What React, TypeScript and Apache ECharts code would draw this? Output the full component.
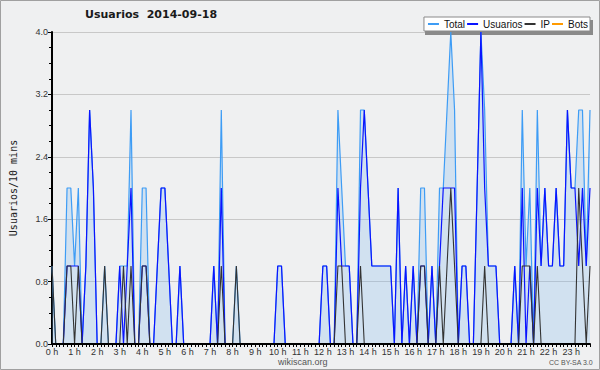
import React, { useEffect, useRef } from 'react';
import * as echarts from 'echarts';

const TITLE = 'Usuarios  2014-09-18';
const Y_NAME = 'Usuarios/10 mins';
const SERIES_NAMES = ['Total', 'Usuarios', 'IP', 'Bots'];
const HOUR_LABELS = [
  '0 h', '1 h', '2 h', '3 h', '4 h', '5 h', '6 h', '7 h', '8 h', '9 h', '10 h', '11 h',
  '12 h', '13 h', '14 h', '15 h', '16 h', '17 h', '18 h', '19 h', '20 h', '21 h', '22 h', '23 h',
];

// one value per 10-minute slot, 144 slots
const TOTAL = [
  1, 0, 0, 0, 2, 2, 1, 2, 0, 1, 3, 2,
  0, 0, 1, 0, 0, 0, 1, 1, 1, 3, 0, 0,
  2, 2, 0, 0, 1, 2, 2, 1, 0, 0, 1, 0,
  0, 0, 0, 0, 0, 0, 0, 1, 0, 3, 0, 0,
  0, 1, 0, 0, 0, 0, 0, 0, 0, 0, 0, 0,
  1, 1, 0, 0, 0, 0, 0, 0, 0, 0, 0, 0,
  1, 1, 0, 0, 3, 2, 1, 1, 0, 0, 3, 3,
  2, 1, 1, 1, 1, 1, 1, 0, 2, 0, 1, 0,
  1, 0, 2, 2, 0, 1, 0, 2, 2, 3, 4, 3,
  0, 1, 1, 0, 0, 2, 4, 3, 1, 1, 1, 0,
  0, 0, 0, 1, 0, 3, 1, 2, 0, 3, 1, 2,
  1, 1, 2, 1, 1, 3, 2, 2, 3, 3, 1, 3,
];
const USUARIOS = [
  0, 0, 0, 0, 1, 1, 1, 1, 0, 1, 3, 2,
  0, 0, 0, 0, 0, 0, 1, 0, 1, 2, 0, 0,
  1, 1, 0, 0, 1, 2, 2, 1, 0, 0, 1, 0,
  0, 0, 0, 0, 0, 0, 0, 1, 0, 2, 0, 0,
  0, 0, 0, 0, 0, 0, 0, 0, 0, 0, 0, 0,
  1, 1, 0, 0, 0, 0, 0, 0, 0, 0, 0, 0,
  1, 1, 0, 0, 2, 1, 1, 1, 0, 0, 2, 3,
  2, 1, 1, 1, 1, 1, 1, 0, 2, 0, 1, 0,
  1, 0, 1, 1, 0, 1, 0, 1, 2, 2, 2, 2,
  0, 1, 1, 0, 0, 2, 4, 2, 1, 1, 1, 0,
  0, 0, 0, 1, 0, 2, 0, 1, 0, 2, 1, 2,
  1, 1, 2, 1, 1, 3, 2, 2, 1, 2, 1, 2,
];
const IP = [
  1, 0, 0, 0, 1, 1, 0, 1, 0, 0, 0, 0,
  0, 0, 1, 0, 0, 0, 0, 1, 0, 1, 0, 0,
  1, 1, 0, 0, 0, 0, 0, 0, 0, 0, 0, 0,
  0, 0, 0, 0, 0, 0, 0, 0, 0, 1, 0, 0,
  0, 1, 0, 0, 0, 0, 0, 0, 0, 0, 0, 0,
  0, 0, 0, 0, 0, 0, 0, 0, 0, 0, 0, 0,
  0, 0, 0, 0, 1, 1, 0, 0, 0, 0, 1, 0,
  0, 0, 0, 0, 0, 0, 0, 0, 0, 0, 0, 0,
  0, 0, 1, 1, 0, 0, 0, 1, 0, 1, 2, 1,
  0, 0, 0, 0, 0, 0, 0, 1, 0, 0, 0, 0,
  0, 0, 0, 0, 0, 1, 1, 1, 0, 1, 0, 0,
  0, 0, 0, 0, 0, 0, 0, 0, 2, 1, 0, 1,
];
const BOTS = [
  0, 0, 0, 0, 0, 0, 0, 0, 0, 0, 0, 0,
  0, 0, 0, 0, 0, 0, 0, 0, 0, 0, 0, 0,
  0, 0, 0, 0, 0, 0, 0, 0, 0, 0, 0, 0,
  0, 0, 0, 0, 0, 0, 0, 0, 0, 0, 0, 0,
  0, 0, 0, 0, 0, 0, 0, 0, 0, 0, 0, 0,
  0, 0, 0, 0, 0, 0, 0, 0, 0, 0, 0, 0,
  0, 0, 0, 0, 0, 0, 0, 0, 0, 0, 0, 0,
  0, 0, 0, 0, 0, 0, 0, 0, 0, 0, 0, 0,
  0, 0, 0, 0, 0, 0, 0, 0, 0, 0, 0, 0,
  0, 0, 0, 0, 0, 0, 0, 0, 0, 0, 0, 0,
  0, 0, 0, 0, 0, 0, 0, 0, 0, 0, 0, 0,
  0, 0, 0, 0, 0, 0, 0, 0, 0, 0, 0, 0,
];

const COLORS = ['#3d9cf5', '#0a14ff', '#333333', '#ff9a00'];

export default function App() {
  const ref = useRef<HTMLDivElement>(null);
  useEffect(() => {
    const chart = echarts.init(ref.current as HTMLDivElement, null, { renderer: 'svg' });
    const cats = TOTAL.map((_, i) => String(i));
    const font = 'Liberation Sans';
    chart.setOption({
      animation: false,
      backgroundColor: '#eff0f1',
      color: COLORS,
      grid: { left: 45, right: 10, top: 32, bottom: 26, containLabel: false },
      legend: {
        data: SERIES_NAMES,
        right: 10,
        top: 17,
        icon: 'rect',
        itemWidth: 11,
        itemHeight: 2,
        itemGap: 2,
        padding: [2, 2, 2, 4],
        backgroundColor: '#ffffff',
        borderColor: '#8a8a8a',
        borderWidth: 1,
        textStyle: { fontSize: 10, color: '#111', fontFamily: font },
      },
      xAxis: {
        type: 'category',
        data: cats,
        boundaryGap: false,
        z: 10,
        axisLine: { lineStyle: { color: '#000', width: 2 } },
        axisTick: { show: true, interval: 0, length: 3, lineStyle: { color: '#000', width: 1 } },
        axisLabel: {
          interval: 5,
          formatter: (_v: string, i: number) => HOUR_LABELS[i / 6] ?? '',
          fontSize: 9,
          color: '#333',
          margin: 3,
          fontFamily: font,
        },
        splitLine: { show: false },
      },
      yAxis: {
        type: 'value',
        min: 0,
        max: 4,
        interval: 0.8,
        name: Y_NAME,
        nameLocation: 'middle',
        nameGap: 34,
        nameRotate: 90,
        nameTextStyle: { fontFamily: 'DejaVu Sans Mono', fontSize: 10, color: '#222' },
        axisLine: { show: true, lineStyle: { color: '#000', width: 2 } },
        axisTick: { show: true, length: 4, lineStyle: { color: '#000' } },
        minorTick: { show: true, splitNumber: 4, length: 3, lineStyle: { color: '#000' } },
        axisLabel: {
          formatter: (v: number) => v.toFixed(1),
          fontSize: 9,
          color: '#333',
          margin: 4,
          fontFamily: font,
        },
        splitLine: { show: true, lineStyle: { color: '#c8c8c8', width: 1 } },
      },
      series: [
        {
          name: 'Total', type: 'line', data: TOTAL, symbol: 'none',
          lineStyle: { width: 1.2, color: COLORS[0] },
          areaStyle: { color: 'rgba(120,178,238,0.36)' },
        },
        { name: 'Usuarios', type: 'line', data: USUARIOS, symbol: 'none', lineStyle: { width: 1.2, color: COLORS[1] } },
        { name: 'IP', type: 'line', data: IP, symbol: 'none', lineStyle: { width: 1.1, color: COLORS[2] } },
        { name: 'Bots', type: 'line', data: BOTS, symbol: 'none', lineStyle: { width: 1.1, color: COLORS[3] } },
      ],
      graphic: [
        {
          type: 'rect', z: 0, silent: true,
          shape: { x: 0.5, y: 0.5, width: 599, height: 369 },
          style: { fill: 'none', stroke: '#a0a0a0', lineWidth: 1 },
        },
        {
          type: 'rect', z: 1, silent: true,
          shape: { x: 425, y: 20, width: 168, height: 15 },
          style: { fill: '#8a8a8a' },
        },
        {
          type: 'text', left: 85, top: 9,
          style: { text: TITLE, font: 'bold 11px "DejaVu Sans"', fill: '#1a1a1a' },
        },
        {
          type: 'text', left: 278, top: 357,
          style: { text: 'wikiscan.org', font: '9px "Liberation Sans"', fill: '#555' },
        },
        {
          type: 'text', left: 549, top: 359,
          style: { text: 'CC BY-SA 3.0', font: '7px "Liberation Sans"', fill: '#555' },
        },
      ],
    });
    return () => chart.dispose();
  }, []);
  return <div ref={ref} style={{ position: 'absolute', left: 0, top: 0, width: 600, height: 370 }} />;
}
